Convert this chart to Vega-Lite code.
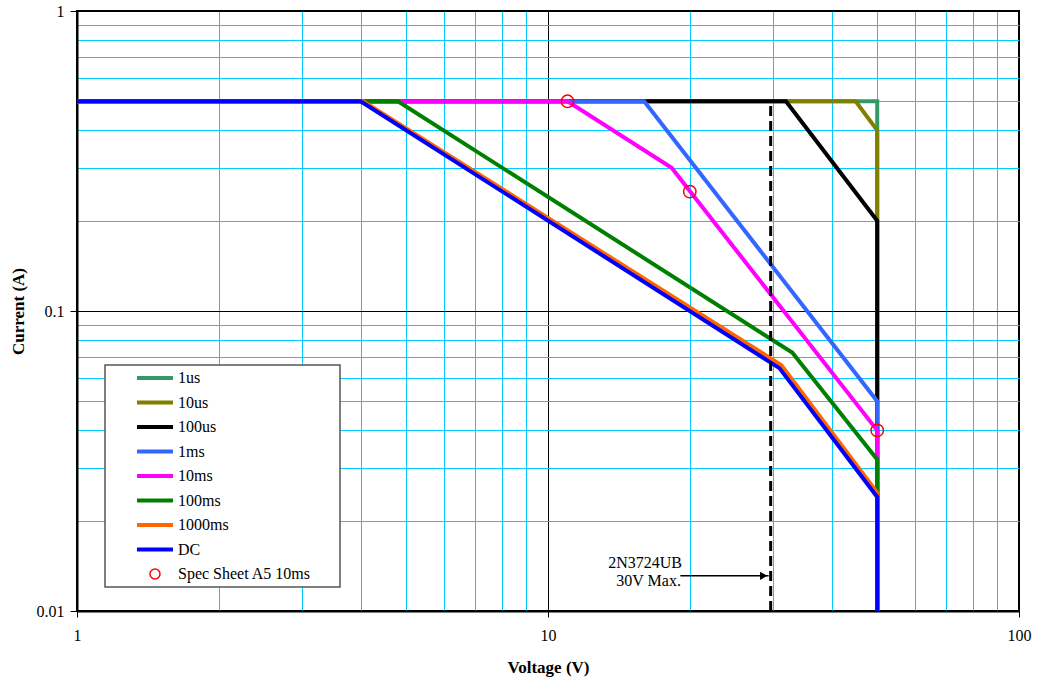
{
  "$schema": "https://vega.github.io/schema/vega-lite/v6.json",
  "width": 942,
  "height": 600,
  "autosize": {"type": "none"},
  "padding": {"left": 77, "top": 11, "right": 18, "bottom": 72},
  "background": "white",
  "config": {
    "font": "Liberation Serif",
    "view": {"stroke": "black", "strokeWidth": 2},
    "axis": {"labelFont": "Liberation Serif", "titleFont": "Liberation Serif", "labelColor": "black", "titleColor": "black"}
  },
  "datasets": {
    "curves": [
      {"series": "1us", "k": 1, "v": 1, "i": 0.5},
      {"series": "1us", "k": 2, "v": 50, "i": 0.5},
      {"series": "1us", "k": 3, "v": 50, "i": 0.01},
      {"series": "10us", "k": 1, "v": 1, "i": 0.5},
      {"series": "10us", "k": 2, "v": 45, "i": 0.5},
      {"series": "10us", "k": 3, "v": 50, "i": 0.4},
      {"series": "10us", "k": 4, "v": 50, "i": 0.01},
      {"series": "100us", "k": 1, "v": 1, "i": 0.5},
      {"series": "100us", "k": 2, "v": 32, "i": 0.5},
      {"series": "100us", "k": 3, "v": 50, "i": 0.2},
      {"series": "100us", "k": 4, "v": 50, "i": 0.01},
      {"series": "1ms", "k": 1, "v": 1, "i": 0.5},
      {"series": "1ms", "k": 2, "v": 16, "i": 0.5},
      {"series": "1ms", "k": 3, "v": 50, "i": 0.05},
      {"series": "1ms", "k": 4, "v": 50, "i": 0.01},
      {"series": "10ms", "k": 1, "v": 1, "i": 0.5},
      {"series": "10ms", "k": 2, "v": 11, "i": 0.5},
      {"series": "10ms", "k": 3, "v": 18.3, "i": 0.3},
      {"series": "10ms", "k": 4, "v": 50, "i": 0.04},
      {"series": "10ms", "k": 5, "v": 50, "i": 0.01},
      {"series": "100ms", "k": 1, "v": 1, "i": 0.5},
      {"series": "100ms", "k": 2, "v": 4.8, "i": 0.5},
      {"series": "100ms", "k": 3, "v": 33, "i": 0.0727},
      {"series": "100ms", "k": 4, "v": 50, "i": 0.032},
      {"series": "100ms", "k": 5, "v": 50, "i": 0.01},
      {"series": "1000ms", "k": 1, "v": 1, "i": 0.5},
      {"series": "1000ms", "k": 2, "v": 4.05, "i": 0.5},
      {"series": "1000ms", "k": 3, "v": 31.3, "i": 0.066},
      {"series": "1000ms", "k": 4, "v": 50, "i": 0.0248},
      {"series": "1000ms", "k": 5, "v": 50, "i": 0.01},
      {"series": "DC", "k": 1, "v": 1, "i": 0.5},
      {"series": "DC", "k": 2, "v": 4, "i": 0.5},
      {"series": "DC", "k": 3, "v": 31, "i": 0.0645},
      {"series": "DC", "k": 4, "v": 50, "i": 0.024},
      {"series": "DC", "k": 5, "v": 50, "i": 0.01}
    ],
    "spec": [
      {"series": "Spec Sheet A5 10ms", "v": 11, "i": 0.5},
      {"series": "Spec Sheet A5 10ms", "v": 20, "i": 0.25},
      {"series": "Spec Sheet A5 10ms", "v": 50, "i": 0.04}
    ],
    "limit": [{"v": 29.7, "i1": 0.01, "i2": 0.5}],
    "arrow": [{"v1": 19.1, "v2": 29.4, "i": 0.0131, "vh": 28.7}],
    "notes": [
      {"v": 19.25, "i": 0.0145, "t": "2N3724UB"},
      {"v": 19.15, "i": 0.01255, "t": "30V Max."}
    ]
  },
  "layer": [
    {
      "data": {"name": "curves"},
      "mark": {"type": "line", "strokeWidth": 4, "clip": true},
      "encoding": {
        "x": {
          "field": "v", "type": "quantitative",
          "scale": {"type": "log", "domain": [1, 100], "nice": false},
          "axis": {
            "title": "Voltage (V)",
            "values": [1, 2, 3, 4, 5, 6, 7, 8, 9, 10, 20, 30, 40, 50, 60, 70, 80, 90, 100],
            "format": "~g",
            "labelExpr": "datum.value == 1 || datum.value == 10 || datum.value == 100 ? datum.label : ''",
            "grid": true,
            "gridColor": {"condition": {"test": "datum.value == 1 || datum.value == 10 || datum.value == 100", "value": "black"}, "value": "#00CCFF"},
            "gridOpacity": 1,
            "gridWidth": 1,
            "tickColor": {"condition": {"test": "datum.value == 1 || datum.value == 10 || datum.value == 100", "value": "black"}, "value": "transparent"},
            "tickSize": 6,
            "domainColor": "black",
            "domainWidth": 2,
            "labelFontSize": 16,
            "labelPadding": 10,
            "labelBaseline": "top",
            "labelFlush": false,
            "labelOverlap": false,
            "titleFontSize": 17,
            "titleFontWeight": "bold",
            "titlePadding": 16
          }
        },
        "y": {
          "field": "i", "type": "quantitative",
          "scale": {"type": "log", "domain": [0.01, 1], "nice": false},
          "axis": {
            "title": "Current (A)",
            "values": [0.01, 0.02, 0.03, 0.04, 0.05, 0.06, 0.07, 0.08, 0.09, 0.1, 0.2, 0.3, 0.4, 0.5, 0.6, 0.7, 0.8, 0.9, 1],
            "format": "~g",
            "labelExpr": "datum.value == 0.01 || datum.value == 0.1 || datum.value == 1 ? datum.label : ''",
            "grid": true,
            "gridColor": {"condition": {"test": "datum.value == 0.01 || datum.value == 0.1 || datum.value == 1", "value": "black"}, "value": "#00CCFF"},
            "gridOpacity": 1,
            "gridWidth": 1,
            "tickColor": {"condition": {"test": "datum.value == 0.01 || datum.value == 0.1 || datum.value == 1", "value": "black"}, "value": "transparent"},
            "tickSize": 7,
            "domainColor": "black",
            "domainWidth": 2,
            "labelFontSize": 16,
            "labelPadding": 6,
            "labelFlush": false,
            "labelOverlap": false,
            "titleFontSize": 17,
            "titleFontWeight": "bold",
            "titlePadding": 9
          }
        },
        "order": {"field": "k", "type": "quantitative"},
        "color": {
          "field": "series", "type": "nominal",
          "scale": {
            "domain": ["1us", "10us", "100us", "1ms", "10ms", "100ms", "1000ms", "DC", "Spec Sheet A5 10ms"],
            "range": ["#339966", "#808000", "#000000", "#3366FF", "#FF00FF", "#008000", "#FF6600", "#0000FF", "#FF0000"]
          },
          "legend": {
            "title": "\u00a0",
            "titleOrient": "right",
            "titleFontSize": 16,
            "titlePadding": 24,
            "orient": "none",
            "legendX": 28,
            "legendY": 354,
            "padding": 5,
            "fillColor": "white",
            "strokeColor": "#555555",
            "symbolSize": 144,
            "symbolOffset": 37,
            "labelOffset": 15,
            "rowPadding": 8.5,
            "labelFont": "Liberation Serif",
            "labelFontSize": 16,
            "labelColor": "black",
            "labelLimit": 400,
            "encode": {
              "legend": {"update": {"strokeWidth": {"value": 1.5}}},
              "symbols": {
                "update": {
                  "shape": {"signal": "datum.value === 'Spec Sheet A5 10ms' ? 'M-0.833,0A0.833,0.833 0 1,0 0.833,0A0.833,0.833 0 1,0 -0.833,0' : 'M-3,0L3,0'"},
                  "strokeWidth": {"signal": "datum.value === 'Spec Sheet A5 10ms' ? 1.5 : 4"},
                  "fill": {"value": "transparent"}
                }
              }
            }
          }
        }
      }
    },
    {
      "data": {"name": "limit"},
      "mark": {"type": "rule", "color": "black", "strokeWidth": 3, "strokeDash": [10, 5]},
      "encoding": {
        "x": {"field": "v", "type": "quantitative"},
        "y": {"field": "i1", "type": "quantitative"},
        "y2": {"field": "i2"}
      }
    },
    {
      "data": {"name": "arrow"},
      "mark": {"type": "rule", "color": "black", "strokeWidth": 1.5},
      "encoding": {
        "x": {"field": "v1", "type": "quantitative"},
        "x2": {"field": "v2"},
        "y": {"field": "i", "type": "quantitative"}
      }
    },
    {
      "data": {"name": "arrow"},
      "mark": {"type": "point", "shape": "triangle-right", "filled": true, "color": "black", "size": 70, "opacity": 1},
      "encoding": {
        "x": {"field": "vh", "type": "quantitative"},
        "y": {"field": "i", "type": "quantitative"}
      }
    },
    {
      "data": {"name": "notes"},
      "mark": {"type": "text", "align": "right", "baseline": "middle", "font": "Liberation Serif", "fontSize": 16, "color": "black"},
      "encoding": {
        "x": {"field": "v", "type": "quantitative"},
        "y": {"field": "i", "type": "quantitative"},
        "text": {"field": "t"}
      }
    },
    {
      "data": {"name": "spec"},
      "mark": {"type": "point", "shape": "circle", "filled": false, "size": 155, "strokeWidth": 1.5, "opacity": 1},
      "encoding": {
        "x": {"field": "v", "type": "quantitative"},
        "y": {"field": "i", "type": "quantitative"},
        "color": {"field": "series", "type": "nominal"}
      }
    }
  ]
}
